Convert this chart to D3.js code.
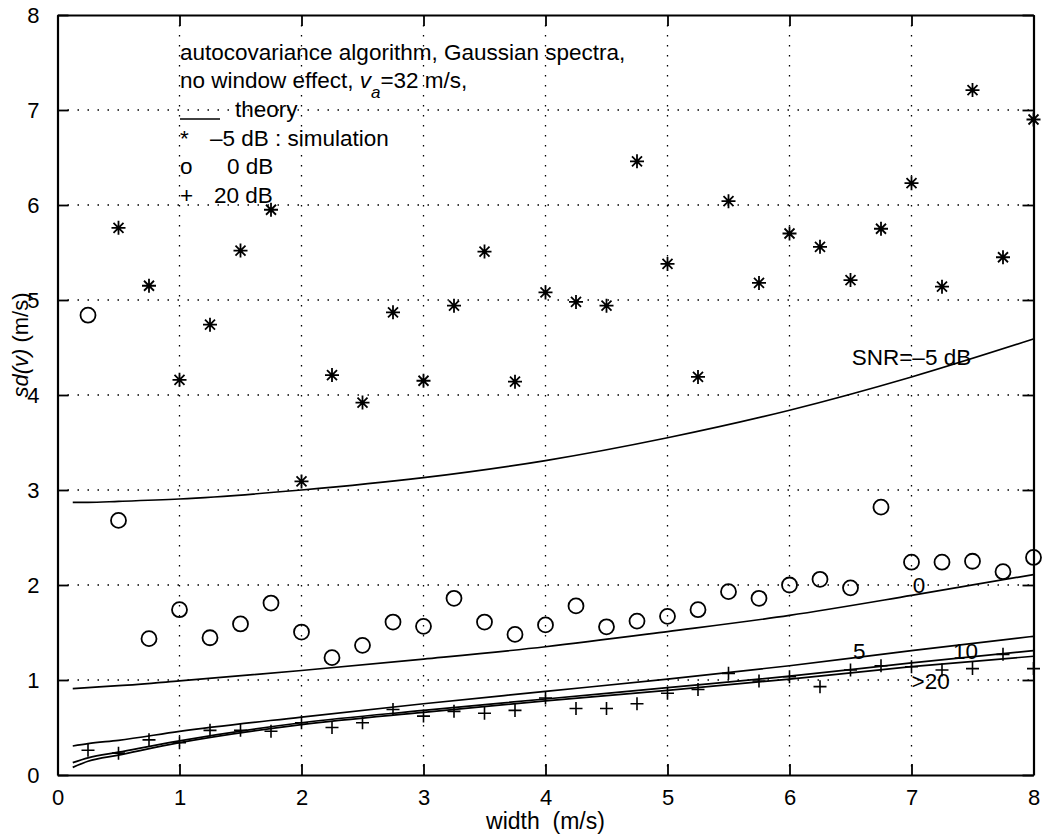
<!DOCTYPE html>
<html><head><meta charset="utf-8">
<script src="https://cdn.jsdelivr.net/npm/d3@7"></script>
<style>
body{margin:0;background:#fff}
svg{display:block}
text{font-family:"Liberation Sans",Arial,Helvetica,sans-serif;fill:#000}
</style>
</head><body>
<svg id="c" width="1046" height="840"></svg>
<script>
// ---------- data ----------
const xTickValues = [0,1,2,3,4,5,6,7,8];
const yTickValues = [0,1,2,3,4,5,6,7,8];

// simulation widths (m/s)
const simWidth = [0.25,0.5,0.75,1,1.25,1.5,1.75,2,2.25,2.5,2.75,3,3.25,3.5,3.75,4,
                  4.25,4.5,4.75,5,5.25,5.5,5.75,6,6.25,6.5,6.75,7,7.25,7.5,7.75,8];
// -5 dB simulation (asterisks); first point off chart
const simM5 = [null,5.76,5.15,4.16,4.74,5.52,5.95,3.09,4.21,3.92,4.87,4.15,4.94,5.51,4.14,5.08,
               4.98,4.94,6.46,5.38,4.19,6.04,5.18,5.70,5.56,5.21,5.75,6.23,5.14,7.21,5.45,6.90];
// 0 dB simulation (circles)
const sim0 = [4.84,2.68,1.435,1.74,1.445,1.59,1.81,1.505,1.235,1.365,1.61,1.565,1.86,1.61,1.48,1.58,
              1.78,1.56,1.62,1.67,1.74,1.93,1.86,2.00,2.06,1.97,2.82,2.24,2.24,2.25,2.14,2.29];
// 20 dB simulation (plus)
const sim20 = [0.26,0.23,0.37,0.34,0.47,0.47,0.46,0.55,0.50,0.55,0.69,0.62,0.67,0.65,0.68,0.81,
               0.70,0.70,0.75,0.86,0.90,1.07,0.99,1.035,0.93,1.105,1.15,1.14,1.105,1.12,1.27,1.12];

// theory curves
const theoryWidth = [0.125,0.25,0.5,1,2,3,4,5,6,7,8];
const theoryM5  = [2.87,2.87,2.88,2.905,3.00,3.13,3.31,3.55,3.84,4.19,4.59];
const theory0   = [0.91,0.92,0.94,0.99,1.10,1.22,1.35,1.51,1.68,1.89,2.11];
const theory5   = [0.305,0.33,0.365,0.46,0.61,0.75,0.88,1.01,1.15,1.31,1.46];
const theory10  = [0.13,0.18,0.24,0.36,0.55,0.68,0.80,0.92,1.04,1.18,1.31];
const theory20  = [0.08,0.145,0.21,0.34,0.53,0.66,0.78,0.89,1.01,1.14,1.25];

const curveLabels = [
  {text:"SNR=–5 dB", x:6.51, y:4.32},
  {text:"0", x:7.01, y:1.92},
  {text:"5", x:6.52, y:1.22},
  {text:"10", x:7.34, y:1.22},
  {text:">20", x:7.0, y:0.905}
];

// ---------- layout ----------
const svg = d3.select("#c");
const L = 57.5, R = 1033.5, T = 15, B = 775;
const x = d3.scaleLinear().domain([0,8]).range([L,R]);
const y = d3.scaleLinear().domain([0,8]).range([B,T]);
const FONT = 22, AFONT = 22.5;

// grid
const g = svg.append("g");
g.selectAll(".gx").data(xTickValues.filter(v=>v>0&&v<8)).enter().append("line")
  .attr("x1",d=>x(d)).attr("x2",d=>x(d)).attr("y1",T).attr("y2",B)
  .attr("stroke","#000").attr("stroke-width",1.3).attr("stroke-dasharray","1.5,8.5");
g.selectAll(".gy").data(yTickValues.filter(v=>v>0&&v<8)).enter().append("line")
  .attr("y1",d=>y(d)).attr("y2",d=>y(d)).attr("x1",L).attr("x2",R)
  .attr("stroke","#000").attr("stroke-width",1.3).attr("stroke-dasharray","1.5,8.5");

// axes with inward ticks
const axB = svg.append("g").attr("transform",`translate(0,${B})`)
  .call(d3.axisBottom(x).tickValues(xTickValues).tickSizeInner(-11).tickSizeOuter(0).tickPadding(14));
const axT = svg.append("g").attr("transform",`translate(0,${T})`)
  .call(d3.axisTop(x).tickValues(xTickValues).tickSizeInner(-11).tickSizeOuter(0).tickFormat(""));
const axL = svg.append("g").attr("transform",`translate(${L},0)`)
  .call(d3.axisLeft(y).tickValues(yTickValues).tickSizeInner(-11).tickSizeOuter(0).tickPadding(18));
const axR = svg.append("g").attr("transform",`translate(${R},0)`)
  .call(d3.axisRight(y).tickValues(yTickValues).tickSizeInner(-11).tickSizeOuter(0).tickFormat(""));
[axB,axT,axL,axR].forEach(a=>{
  a.selectAll("path").attr("stroke","#000").attr("stroke-width",2.2);
  a.selectAll("line").attr("stroke","#000").attr("stroke-width",1.8);
  a.selectAll("text").attr("font-size",FONT).attr("font-family","Liberation Sans, Arial, sans-serif").attr("fill","#000");
});

// theory curves
const line = d3.line().x(d=>x(d[0])).y(d=>y(d[1])).curve(d3.curveMonotoneX);
[theoryM5,theory0,theory5,theory10,theory20].forEach(arr=>{
  svg.append("path").datum(theoryWidth.map((w,i)=>[w,arr[i]]))
    .attr("d",line).attr("fill","none").attr("stroke","#000").attr("stroke-width",1.7);
});

// markers
const pts = (arr)=>simWidth.map((w,i)=>[w,arr[i]]).filter(d=>d[1]!=null);
const star = svg.append("g");
pts(simM5).forEach(d=>{
  const cx=x(d[0]), cy=y(d[1]), r=7, q=5;
  star.append("path")
    .attr("d",`M${cx-r},${cy}H${cx+r}M${cx},${cy-r}V${cy+r}M${cx-q},${cy-q}L${cx+q},${cy+q}M${cx-q},${cy+q}L${cx+q},${cy-q}`)
    .attr("stroke","#000").attr("stroke-width",1.8).attr("fill","none");
});
svg.append("g").selectAll("circle").data(pts(sim0)).enter().append("circle")
  .attr("cx",d=>x(d[0])).attr("cy",d=>y(d[1])).attr("r",7.5)
  .attr("fill","none").attr("stroke","#000").attr("stroke-width",1.8);
const plus = svg.append("g");
pts(sim20).forEach(d=>{
  const cx=x(d[0]), cy=y(d[1]), r=6.5;
  plus.append("path").attr("d",`M${cx-r},${cy}H${cx+r}M${cx},${cy-r}V${cy+r}`)
    .attr("stroke","#000").attr("stroke-width",1.6).attr("fill","none");
});

// curve labels
svg.append("g").selectAll("text").data(curveLabels).enter().append("text")
  .attr("x",d=>x(d.x)).attr("y",d=>y(d.y)).attr("font-size",AFONT).text(d=>d.text);

// annotation block
const ax0 = 180;
svg.append("text").attr("x",ax0).attr("y",60).attr("font-size",AFONT)
  .text("autocovariance algorithm, Gaussian spectra,");
const t2 = svg.append("text").attr("x",ax0).attr("y",88).attr("font-size",AFONT);
t2.append("tspan").text("no window effect,\u00a0");
t2.append("tspan").attr("font-style","italic").text("v");
t2.append("tspan").attr("font-style","italic").attr("font-size",17).attr("dy",10).text("a");
t2.append("tspan").attr("dy",-10).text("=32 m/s,");
svg.append("line").attr("x1",ax0).attr("x2",220).attr("y1",119).attr("y2",119)
  .attr("stroke","#000").attr("stroke-width",1.5);
svg.append("text").attr("x",235).attr("y",117).attr("font-size",AFONT).text("theory");
svg.append("text").attr("x",ax0).attr("y",146).attr("font-size",AFONT).text("*");
svg.append("text").attr("x",210).attr("y",146).attr("font-size",AFONT).text("–5 dB : simulation");
svg.append("text").attr("x",ax0).attr("y",174).attr("font-size",AFONT).text("o");
svg.append("text").attr("x",227).attr("y",174).attr("font-size",AFONT).text("0 dB");
svg.append("text").attr("x",ax0).attr("y",203).attr("font-size",AFONT).text("+");
svg.append("text").attr("x",214).attr("y",203).attr("font-size",AFONT).text("20 dB");

// axis titles
svg.append("text").attr("x",(L+R)/2).attr("y",829).attr("text-anchor","middle")
  .attr("font-size",23).text("width\u00a0\u00a0(m/s)");
const yl = svg.append("text").attr("transform","translate(28,345) rotate(-90)")
  .attr("text-anchor","middle").attr("font-size",FONT);
yl.append("tspan").attr("font-style","italic").text("sd(v)");
yl.append("tspan").text("\u00a0(m/s)");
</script>
</body></html>
